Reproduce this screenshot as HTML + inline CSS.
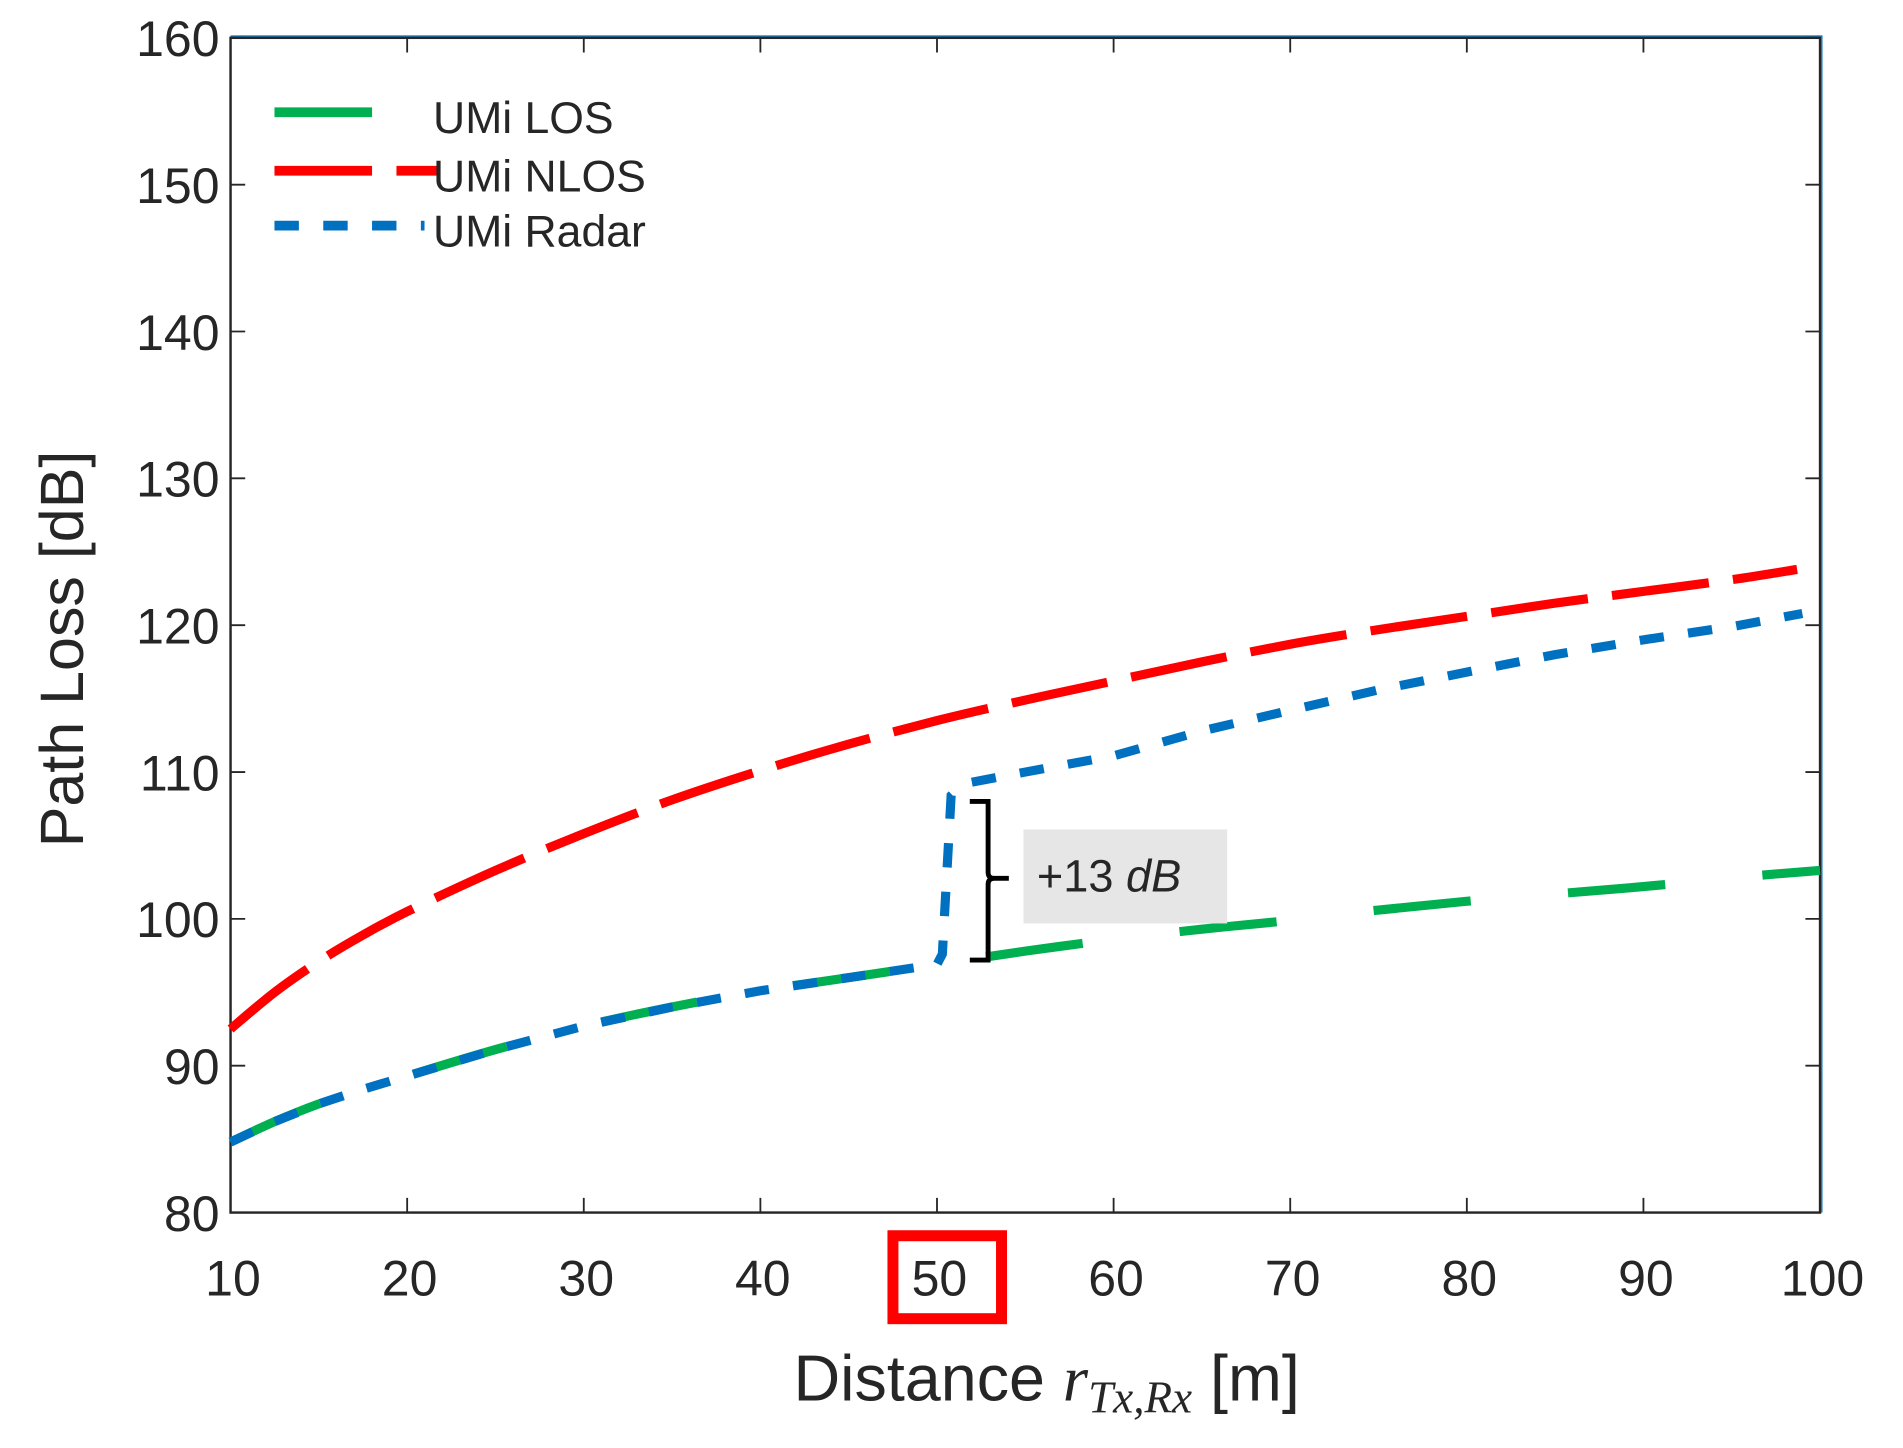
<!DOCTYPE html>
<html><head><meta charset="utf-8"><style>
html,body{margin:0;padding:0;background:#fff;}
svg{display:block;}
text{font-family:"Liberation Sans",sans-serif;fill:#262626;}
</style></head><body>
<svg id="chart" width="1903" height="1448" viewBox="0 0 1560 1187" xmlns="http://www.w3.org/2000/svg">
<g id="plot"></g>
</svg>
<script>
const xTicks=[10,20,30,40,50,60,70,80,90,100];
const yTicks=[80,90,100,110,120,130,140,150,160];
const losX=[10,12.5,15,17.5,20,25,30,35,40,45,50,55,60,65,70,75,80,85,90,95,100];
const losY=[84.8,86.2,87.4,88.4,89.3,91.1,92.7,94.0,95.1,96.0,96.9,97.8,98.6,99.3,99.9,100.6,101.2,101.7,102.2,102.8,103.3];
const nlosX=[10,12.5,15,17.5,20,25,30,35,40,45,50,55,60,65,70,75,80,85,90,95,98.7];
const nlosY=[92.5,95.0,97.1,98.9,100.5,103.3,105.8,108.1,110.1,111.9,113.5,114.9,116.2,117.5,118.7,119.7,120.6,121.5,122.3,123.1,123.8];
const radarX=[10,12.5,15,17.5,20,25,30,35,40,45,50,50.3,50.8,51.5,55,60,65,70,75,80,85,90,95,99];
const radarY=[84.8,86.2,87.4,88.4,89.3,91.1,92.7,94.0,95.1,96.0,96.9,97.6,108.4,109.2,110.0,111.1,112.8,114.2,115.6,116.8,118.0,119.0,119.9,120.8];

const L=189,R=1492,T=31,B=994;
const sx=v=>L+(v-10)/90*(R-L);
const sy=v=>B-(v-80)/80*(B-T);
const NS='http://www.w3.org/2000/svg';
const g=document.getElementById('plot');
function mk(tag,attrs,parent){const e=document.createElementNS(NS,tag);for(const k in attrs)e.setAttribute(k,attrs[k]);(parent||g).appendChild(e);return e;}

const box=mk('rect',{x:L,y:T,width:R-L,height:B-T,fill:'none',stroke:'#262626','stroke-width':2});


const edge=mk('path',{d:`M${L} ${T-1.5}H${R+1.5}V${B}`,fill:'none',stroke:'#0072bd','stroke-width':1});



xTicks.forEach(v=>{
  const x=sx(v);
  const t=mk('path',{d:`M${x} ${B}V${B-12}M${x} ${T}V${T+12}`,stroke:'#262626','stroke-width':1.5});
  
  
  const lb=mk('text',{x:x+2,y:1062,'text-anchor':'middle','font-size':41});
  lb.textContent=v;
  
  
});
yTicks.forEach(v=>{
  const y=sy(v);
  const t=mk('path',{d:`M${L} ${y}H${L+12}M${R} ${y}H${R-12}`,stroke:'#262626','stroke-width':1.5});
  
  
  const lb=mk('text',{x:180,y:y+15,'text-anchor':'end','font-size':41});
  lb.textContent=v;
  
  
});

function smoothPath(xs,ys){
  const P=xs.map((x,i)=>[sx(x),sy(ys[i])]);
  let d='M'+P[0][0].toFixed(1)+' '+P[0][1].toFixed(1);
  for(let i=0;i<P.length-1;i++){
    const p0=P[Math.max(0,i-1)],p1=P[i],p2=P[i+1],p3=P[Math.min(P.length-1,i+2)];
    const c1=[p1[0]+(p2[0]-p0[0])/6,p1[1]+(p2[1]-p0[1])/6];
    const c2=[p2[0]-(p3[0]-p1[0])/6,p2[1]-(p3[1]-p1[1])/6];
    d+=`C${c1[0].toFixed(1)} ${c1[1].toFixed(1)} ${c2[0].toFixed(1)} ${c2[1].toFixed(1)} ${p2[0].toFixed(1)} ${p2[1].toFixed(1)}`;
  }
  return d;
}
function series(xs,ys,color,dash,name,smooth){
  const d=smooth?smoothPath(xs,ys):xs.map((x,i)=>(i?'L':'M')+sx(x).toFixed(1)+' '+sy(ys[i]).toFixed(1)).join('');
  const p=mk('path',{d:d,fill:'none',stroke:color,'stroke-width':7.5,'stroke-dasharray':dash});
  
  
}
series(losX,losY,'#00b050','80 80','los-line',true);
series(nlosX,nlosY,'#ff0000','80 20','nlos-line',true);
series(radarX,radarY,'#0070c0','20 20','radar-line',false);

const leg=[['UMi LOS','#00b050','80 80',97],['UMi NLOS','#ff0000','80 20',145],['UMi Radar','#0070c0','20 20',190]];
leg.forEach(([t,c,d,y],i)=>{
  const w=i===0?80:(i===1?135:123);
  const ln=mk('line',{x1:225,x2:225+w,y1:y-5,y2:y-5,stroke:c,'stroke-width':8,'stroke-dasharray':d});
  
  
  const tx=mk('text',{x:355,y:y+12,'font-size':36.5,fill:'#000'});
  tx.textContent=t;
  
  
});

const ab=mk('rect',{x:839,y:680,width:167,height:77,fill:'#e6e6e6'});


const at=mk('text',{x:850,y:731,'font-size':37,'font-family':'Liberation Serif,serif','font-style':'italic',fill:'#000'});
at.innerHTML='<tspan font-style="normal">+13</tspan> dB';


const br=mk('path',{d:'M795 657H810V715Q810 720 815 720H827M815 720Q810 720 810 725V787H795',fill:'none',stroke:'#000','stroke-width':4});



const hb=mk('rect',{x:732,y:1013,width:89,height:68,fill:'none',stroke:'#ff0000','stroke-width':9});



const yt=mk('text',{x:0,y:0,'font-size':50,'text-anchor':'middle',transform:'translate(68,532) rotate(-90)'});
yt.textContent='Path Loss [dB]';


const xt=mk('text',{x:858,y:1148,'font-size':53,'text-anchor':'middle'});
xt.innerHTML='Distance <tspan font-family="Liberation Serif,serif" font-style="italic">r</tspan><tspan font-family="Liberation Serif,serif" font-style="italic" font-size="37" dy="10">Tx,Rx</tspan><tspan dy="-10"> [m]</tspan>';


</script>
</body></html>
